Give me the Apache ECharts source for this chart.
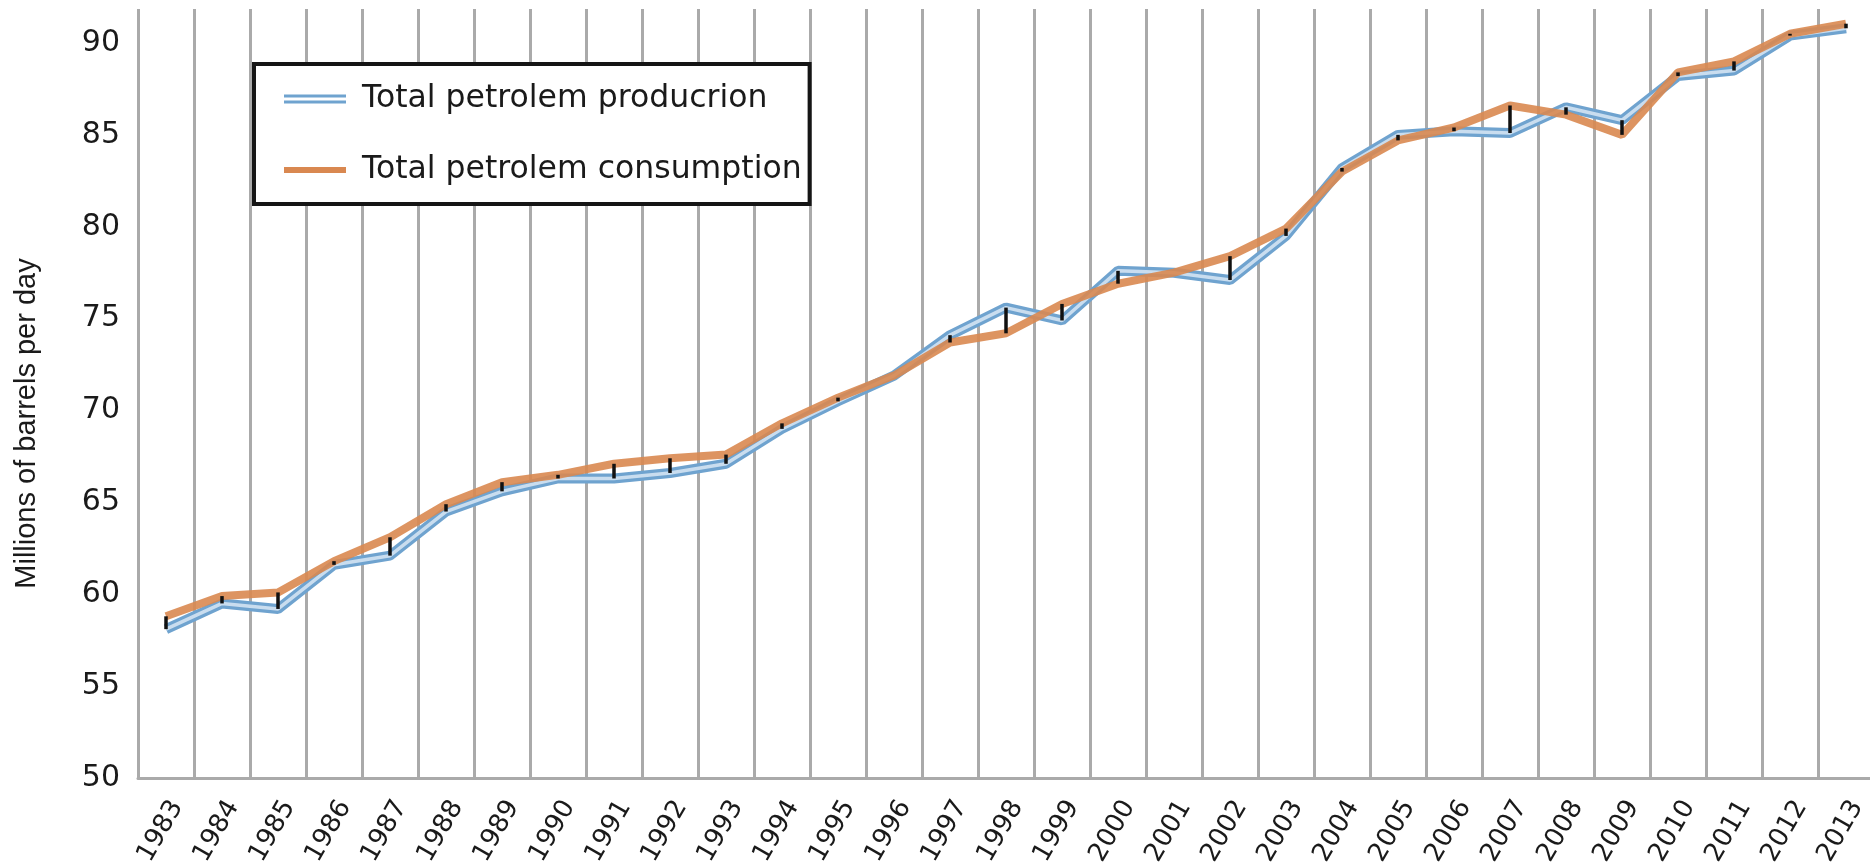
<!DOCTYPE html>
<html>
<head>
<meta charset="utf-8">
<title>Total petroleum production and consumption</title>
<script src="https://cdn.jsdelivr.net/npm/echarts@6/dist/echarts.min.js"></script>
<style>
  html, body { margin: 0; padding: 0; background: #fff; }
  #chart { width: 1870px; height: 862px; }
</style>
</head>
<body>
<div id="chart"></div>
<script>
// years on the x axis
const years = ['1983', '1984', '1985', '1986', '1987', '1988', '1989', '1990', '1991', '1992',
  '1993', '1994', '1995', '1996', '1997', '1998', '1999', '2000', '2001', '2002',
  '2003', '2004', '2005', '2006', '2007', '2008', '2009', '2010', '2011', '2012', '2013'];

// millions of barrels per day
const production = [58.1, 59.5, 59.2, 61.6, 62.1, 64.5, 65.6, 66.3, 66.3, 66.6,
  67.1, 69.0, 70.5, 71.9, 74.1, 75.6, 74.9, 77.6, 77.5, 77.1,
  79.5, 83.2, 85.0, 85.2, 85.1, 86.5, 85.8, 88.2, 88.5, 90.4, 90.8];
const consumption = [58.8, 59.9, 60.1, 61.8, 63.1, 64.9, 66.1, 66.5, 67.1, 67.4,
  67.6, 69.3, 70.7, 71.9, 73.7, 74.2, 75.8, 76.9, 77.5, 78.4,
  79.9, 83.0, 84.7, 85.4, 86.6, 86.1, 85.0, 88.4, 89.0, 90.5, 91.05];

const prodName = 'Total petrolem producrion';
const consName = 'Total petrolem consumption';

const blue = '#6fa3cf';
const orange = '#d98850';

// tiny specks fix the icon box so the gap before the label stays blank
const speck = (x, y) => 'M' + x + ',' + y + 'h0.01v0.01h-0.01Z ';
const iconDouble = 'path://' + speck(0, 0) + speck(72.99, 8.99) + 'M0,0H62V3H0Z M0,6H62V9H0Z';
const iconSolid = 'path://' + speck(0, 0) + speck(72.99, 8.99) + 'M0,1.5H62V7.5H0Z';

const chart = echarts.init(document.getElementById('chart'));

const gaps = years.map((y, i) => [i, production[i], consumption[i]]);

const option = {
  backgroundColor: '#fff',
  animation: false,
  // labels run off the bottom edge in the original, so keep the grid where it is
  grid: { left: 138, right: -4, top: 9, bottom: 84, outerBoundsMode: 'none' },
  legend: {
    orient: 'vertical',
    left: 254,
    top: 64,
    padding: [19, 8, 18, 30],
    itemWidth: 73,
    itemHeight: 9,
    itemGap: 39,
    selectedMode: false,
    backgroundColor: '#fff',
    borderColor: '#151515',
    borderWidth: 4,
    itemStyle: { borderWidth: 0 },
    textStyle: { fontFamily: 'DejaVu Sans', fontSize: 31.5, color: '#1a1a1a' },
    data: [
      { name: prodName, icon: iconDouble, itemStyle: { color: blue } },
      { name: consName, icon: iconSolid, itemStyle: { color: orange } }
    ]
  },
  xAxis: {
    type: 'category',
    data: years,
    boundaryGap: true,
    axisLine: { lineStyle: { color: '#aaaaaa', width: 3 } },
    axisTick: { show: false },
    splitLine: { show: true, interval: 0, lineStyle: { color: '#aaaaaa', width: 3 } },
    axisLabel: {
      interval: 0,
      rotate: 60,
      margin: 18,
      verticalAlign: 'top',
      fontFamily: 'DejaVu Sans',
      fontSize: 26,
      color: '#1a1a1a'
    }
  },
  yAxis: {
    type: 'value',
    min: 50,
    max: 91.85,
    interval: 5,
    name: 'Millions of barrels per day',
    nameLocation: 'middle',
    nameGap: 97,
    nameTextStyle: {
      fontFamily: 'Liberation Sans',
      fontSize: 29,
      color: '#1a1a1a',
      padding: [0, 60, 0, 0]
    },
    axisLine: { show: false },
    axisTick: { show: false },
    splitLine: { show: false },
    axisLabel: {
      margin: 18,
      fontFamily: 'DejaVu Sans',
      fontSize: 30,
      color: '#1a1a1a',
      formatter: (v) => (v % 5 === 0 ? String(v) : '')
    }
  },
  series: [
    {
      name: prodName,
      type: 'line',
      data: production,
      symbol: 'none',
      color: blue,
      lineStyle: { color: blue, width: 10 },
      z: 3
    },
    {
      name: 'production-inner',
      type: 'line',
      data: production,
      symbol: 'none',
      lineStyle: { color: '#c9ddef', width: 3.5 },
      z: 4
    },
    {
      name: consName,
      type: 'line',
      data: consumption,
      symbol: 'none',
      color: orange,
      lineStyle: { color: orange, width: 8, opacity: 0.9 },
      z: 5
    },
    {
      name: 'gap',
      type: 'custom',
      data: gaps,
      encode: { x: 0, y: [1, 2] },
      z: 6,
      renderItem: (params, api) => {
        const a = api.coord([api.value(0), api.value(1)]);
        const b = api.coord([api.value(0), api.value(2)]);
        return {
          type: 'line',
          shape: { x1: a[0], y1: a[1], x2: b[0], y2: b[1] },
          style: { stroke: '#111', lineWidth: 3.5 }
        };
      }
    }
  ]
};

chart.setOption(option);
</script>
</body>
</html>
